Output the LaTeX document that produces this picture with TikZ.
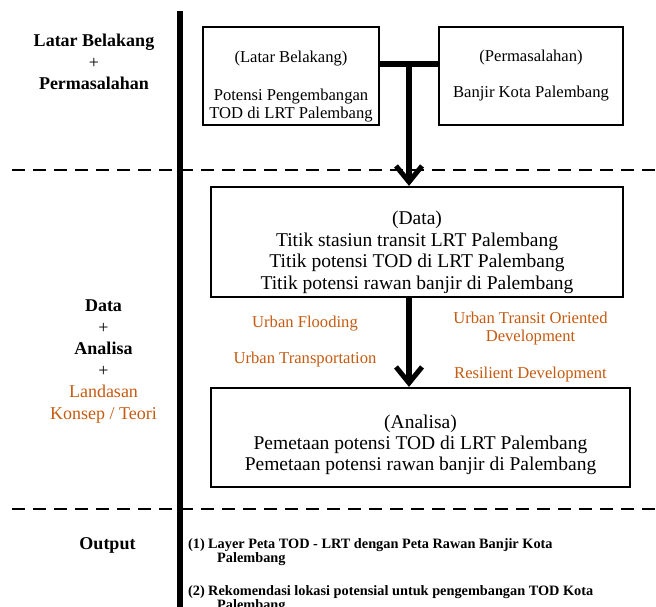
\documentclass[tikz,border=0pt]{standalone}
\usepackage{fontspec}
\setmainfont{Liberation Serif}
\usetikzlibrary{arrows.meta,positioning,calc}
\definecolor{konsep}{HTML}{C55A11}

\begin{document}
\begin{tikzpicture}[x=1pt,y=-1pt,>={Straight Barb[length=16pt,width=26pt,line width=5pt]},
  flowbox/.style={draw,line width=2.2pt,align=center,inner sep=0pt},
  smallbox/.style={flowbox,font=\fontsize{16.6}{18}\selectfont},
  bigbox/.style={flowbox,font=\fontsize{19.5}{21.4}\selectfont},
  flowline/.style={line width=6pt},
  phase/.style={align=center,font=\fontsize{18}{21.5}\selectfont},
  teori/.style={konsep,align=center,font=\fontsize{16.6}{18}\selectfont}]
  \useasboundingbox (0,0) rectangle (656,607);
  % Separators
  \draw[line width=5.5pt] (180,11) -- (180,607);
  \draw[line width=2.8pt,dash pattern=on 13pt off 8pt] (12,170) -- (656,170);
  \draw[line width=2.8pt,dash pattern=on 13pt off 8pt] (12,509) -- (656,509);
  % Phase labels
  \node[phase] (latar) at (94,62) {\textbf{Latar Belakang}\\+\\\textbf{Permasalahan}};
  \node[phase] (dataan) at (103.5,361.5) {\textbf{Data}\\+\\\textbf{Analisa}\\+\\\textcolor{konsep}{Landasan}\\\textcolor{konsep}{Konsep / Teori}};
  \node[phase] (outlbl) at (107.5,545.5) {\textbf{Output}};
  % Boxes
  \node[smallbox,minimum width=176pt,minimum height=98pt] (lbox) at (291,76)
    {\rule{0pt}{31.6pt}(Latar Belakang)\\[20pt]Potensi Pengembangan\\TOD di LRT Palembang};
  \node[smallbox,minimum width=184pt,minimum height=98pt] (pbox) at (531,76)
    {(Permasalahan)\\[18pt]Banjir Kota Palembang};
  \node[bigbox,minimum width=412pt,minimum height=110pt] (dbox) at (417,242)
    {\rule{0pt}{34.4pt}(Data)\\Titik stasiun transit LRT Palembang\\Titik potensi TOD di LRT Palembang\\Titik potensi rawan banjir di Palembang};
  \node[bigbox,minimum width=419pt,minimum height=99pt] (abox) at (420.5,437.5)
    {\rule{0pt}{28.2pt}(Analisa)\\Pemetaan potensi TOD di LRT Palembang\\Pemetaan potensi rawan banjir di Palembang};
  % Connectors
  \coordinate (junc) at (409,64);
  \draw[flowline] (lbox.east |- junc) -- (pbox.west |- junc);
  \draw[flowline,->] (junc) -- (junc |- dbox.north);
  \draw[flowline,->] (junc |- dbox.south) -- (junc |- abox.north);
  % Landasan teori
  \node[teori] (flood) at (305,324) {Urban Flooding};
  \node[teori] (transp) at (305,360) {Urban Transportation};
  \node[teori] (utod) at (530.5,329) {Urban Transit Oriented\\Development};
  \node[teori] (resil) at (530.5,375) {Resilient Development};
  % Output
  \node[anchor=north west,align=left,inner sep=0pt,font=\bfseries\fontsize{14.3}{14.5}\selectfont] (hasil) at (188,538)
    {\makebox[20pt][l]{(1)}Layer Peta TOD - LRT dengan Peta Rawan Banjir Kota\\\hspace*{29pt}Palembang\\[18pt]
     \makebox[20pt][l]{(2)}Rekomendasi lokasi potensial untuk pengembangan TOD Kota\\\hspace*{29pt}Palembang};
\end{tikzpicture}
\end{document}
